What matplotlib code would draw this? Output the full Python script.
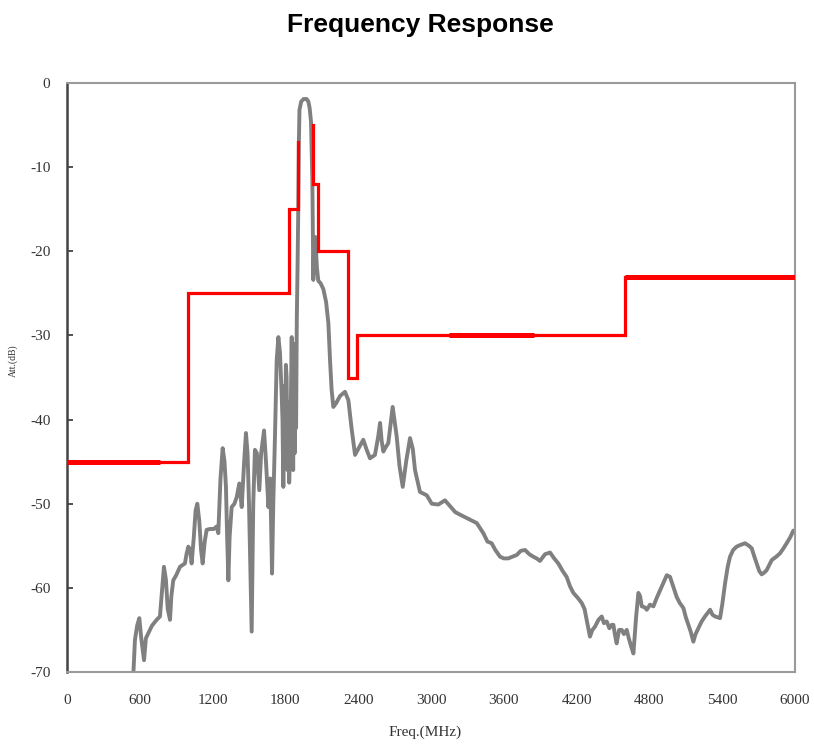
import matplotlib
matplotlib.use("Agg")
import matplotlib.pyplot as plt
import numpy as np

# ---- data ----
freq_mhz = [535, 547, 560, 578, 596, 612, 635, 650, 670, 700, 739, 766, 785, 799, 815, 830, 849, 860, 876,
            900, 931, 972, 985, 1000, 1015, 1027, 1045, 1060, 1074, 1090, 1105, 1118, 1135, 1151, 1180,
            1210, 1234, 1247, 1265, 1283, 1298, 1310, 1320, 1330, 1340, 1357, 1380, 1399, 1420, 1440,
            1460, 1475, 1488, 1500, 1512, 1522, 1535, 1549, 1565, 1585, 1600, 1624, 1640, 1660, 1675,
            1690, 1700, 1714, 1728, 1742, 1755, 1769, 1776, 1783, 1790, 1797, 1804, 1810, 1817, 1824,
            1831, 1838, 1845, 1852, 1858, 1864, 1870, 1876, 1882, 1888, 1894, 1900, 1906, 1911, 1916,
            1930, 1950, 1975, 1989, 2000, 2011, 2022, 2030,
            2038, 2046, 2060, 2071, 2090, 2113, 2135, 2154, 2168, 2181, 2195, 2220, 2250, 2291, 2319,
            2345, 2374, 2400, 2442, 2470, 2497, 2538, 2565, 2580, 2593, 2607, 2630, 2648, 2684, 2717,
            2740, 2767, 2795, 2827, 2850, 2868, 2909, 2965, 3006, 3060, 3115, 3157, 3200, 3239, 3280,
            3321, 3377, 3431, 3465, 3500, 3530, 3569, 3600, 3637, 3670, 3706, 3740, 3775, 3810, 3843,
            3870, 3898, 3940, 3981, 4015, 4049, 4085, 4118, 4145, 4173, 4210, 4242, 4265, 4283, 4300,
            4310, 4330, 4352, 4380, 4407, 4425, 4448, 4470, 4490, 4503, 4515, 4530, 4550, 4572, 4590,
            4613, 4630, 4650, 4668, 4690, 4709, 4723, 4737, 4760, 4778, 4805, 4833, 4860, 4888, 4915,
            4943, 4970, 5000, 5025, 5050, 5080, 5100, 5121, 5140, 5162, 5180, 5203, 5230, 5258, 5300,
            5320, 5341, 5382, 5400, 5423, 5445, 5464, 5490, 5519, 5550, 5588, 5620, 5643, 5665, 5684,
            5705, 5725, 5745, 5766, 5790, 5808, 5845, 5876, 5905, 5931, 5960, 5986, 6000]
response_db = [-72.0, -70.2, -66.2, -64.5, -63.6, -66.0, -68.6, -66.0, -65.4, -64.5, -63.8, -63.4, -60.0,
               -57.5, -59.0, -62.5, -63.8, -61.0, -59.1, -58.5, -57.5, -57.1, -56.0, -55.1, -55.5, -57.1,
               -54.0, -50.8, -50.0, -52.0, -55.5, -57.1, -54.5, -53.1, -53.0, -53.0, -52.7, -53.5, -47.0,
               -43.4, -45.0, -48.0, -54.0, -59.1, -54.0, -50.4, -50.0, -49.2, -47.6, -50.4, -45.0, -41.6,
               -44.0, -50.0, -58.0, -65.2, -50.0, -43.6, -44.0, -48.4, -44.0, -41.3, -45.0, -50.4, -47.0,
               -58.3, -50.0, -42.0, -33.0, -30.2, -32.0, -36.9, -40.0, -48.0, -36.0, -45.0, -33.5, -35.0,
               -46.0, -38.0, -47.5, -44.0, -38.0, -30.2, -40.0, -46.0, -35.0, -44.0, -31.0, -41.0, -28.0,
               -22.0, -15.0, -7.0, -3.2,
               -2.2, -1.9, -1.9, -2.2, -3.0,
               -4.6, -11.5, -23.4, -18.5, -18.3, -22.0, -23.5, -23.8, -24.5, -26.0, -28.5, -33.0, -36.5,
               -38.5, -38.0, -37.2, -36.7, -37.7, -41.0, -44.2, -43.5, -42.4, -43.6, -44.6, -44.2, -42.0,
               -40.4, -42.5, -43.8, -43.2, -42.8, -38.5, -42.0, -45.5, -48.0, -45.0, -42.2, -43.5, -46.0,
               -48.6, -49.0, -50.0, -50.1, -49.6, -50.3, -51.0, -51.3, -51.6, -51.9, -52.3, -53.5, -54.5,
               -54.7, -55.5, -56.3, -56.5, -56.5, -56.3, -56.1, -55.6, -55.5, -56.0, -56.3, -56.5, -56.8,
               -56.0, -55.8, -56.5, -57.1, -58.0, -58.7, -59.8, -60.6, -61.2, -61.8, -62.5, -63.8, -65.0,
               -65.8, -65.0, -64.6, -63.8, -63.4, -64.2, -64.0, -64.8, -64.4, -64.4, -65.5, -66.6, -65.0,
               -65.0, -65.5, -65.0, -66.0, -67.0, -67.8, -63.5, -60.6, -61.0, -62.2, -62.3, -62.6, -62.0,
               -62.2, -61.2, -60.3, -59.4, -58.5, -58.7, -60.0, -61.1, -61.8, -62.4, -63.5, -64.4, -65.2,
               -66.4, -65.5, -64.8, -64.0, -63.4, -62.6, -63.2, -63.4, -63.6, -62.0, -59.5, -57.5, -56.3,
               -55.5, -55.1, -54.9, -54.7, -55.0, -55.3, -56.3, -57.1, -58.0, -58.4, -58.2, -57.9, -57.2,
               -56.7, -56.3, -55.9, -55.3, -54.7, -54.0, -53.2, -53.2]

# spectrum mask vertices (the part inside the main lobe is not drawn -> NaN break)
mask_x_mhz = [0, 1000, 1000, 1830, 1830, 1904, 1904, np.nan, 2024, 2024, 2070, 2070, 2312, 2312,
              2392, 2392, 4600, 4600, 6000]
mask_y_db = [-45, -45, -25, -25, -15, -15, -7, np.nan, -5, -12, -12, -20, -20, -35,
             -35, -30, -30, -23, -23]

thick_start_mhz = [0, 3150, 4600]
thick_end_mhz = [770, 3850, 6000]
thick_level_db = [-45, -30, -23]

x_ticks = [0, 600, 1200, 1800, 2400, 3000, 3600, 4200, 4800, 5400, 6000]
y_ticks = [0, -10, -20, -30, -40, -50, -60, -70]

# ---- figure ----
fig = plt.figure(figsize=(8.14, 7.44), dpi=100)
ax = fig.add_axes([0.0823, 0.0968, 0.8944, 0.7916])

ax.plot(freq_mhz, response_db, color="#808080", lw=2.8, zorder=2)

ax.plot(mask_x_mhz, mask_y_db, color="#ff0000", lw=2.3, solid_joinstyle="miter", zorder=3)
for s, e, l in zip(thick_start_mhz, thick_end_mhz, thick_level_db):
    ax.plot([s, e], [l, l], color="#ff0000", lw=3.6, solid_capstyle="butt", zorder=3)

ax.set_xlim(0, 6000)
ax.set_ylim(-70, 0)
ax.set_xticks(x_ticks)
ax.set_yticks(y_ticks)
ax.set_xticklabels([str(v) for v in x_ticks], family="Liberation Serif", fontsize=11, color="#333333")
ax.set_yticklabels([str(v) for v in y_ticks], family="Liberation Serif", fontsize=11, color="#333333")
ax.tick_params(axis="x", length=0, pad=16)
ax.tick_params(axis="y", direction="in", length=4, width=1.2, color="#333333", pad=12)

for side in ["top", "right", "bottom"]:
    ax.spines[side].set_color("#9a9a9a")
    ax.spines[side].set_linewidth(1.5)
ax.spines["left"].set_color("#444444")
ax.spines["left"].set_linewidth(1.8)

fig.text(0.516, 0.957, "Frequency Response", ha="center", va="baseline",
         family="Liberation Sans", fontweight="bold", fontsize=19)
fig.text(0.522, 0.016, "Freq.(MHz)", ha="center", va="center",
         family="Liberation Serif", fontsize=11, color="#333333")
fig.text(0.016, 0.515, "Att.(dB)", ha="center", va="center", rotation=90,
         family="Liberation Serif", fontsize=7, color="#333333")

fig.savefig("out.png", dpi=100)
